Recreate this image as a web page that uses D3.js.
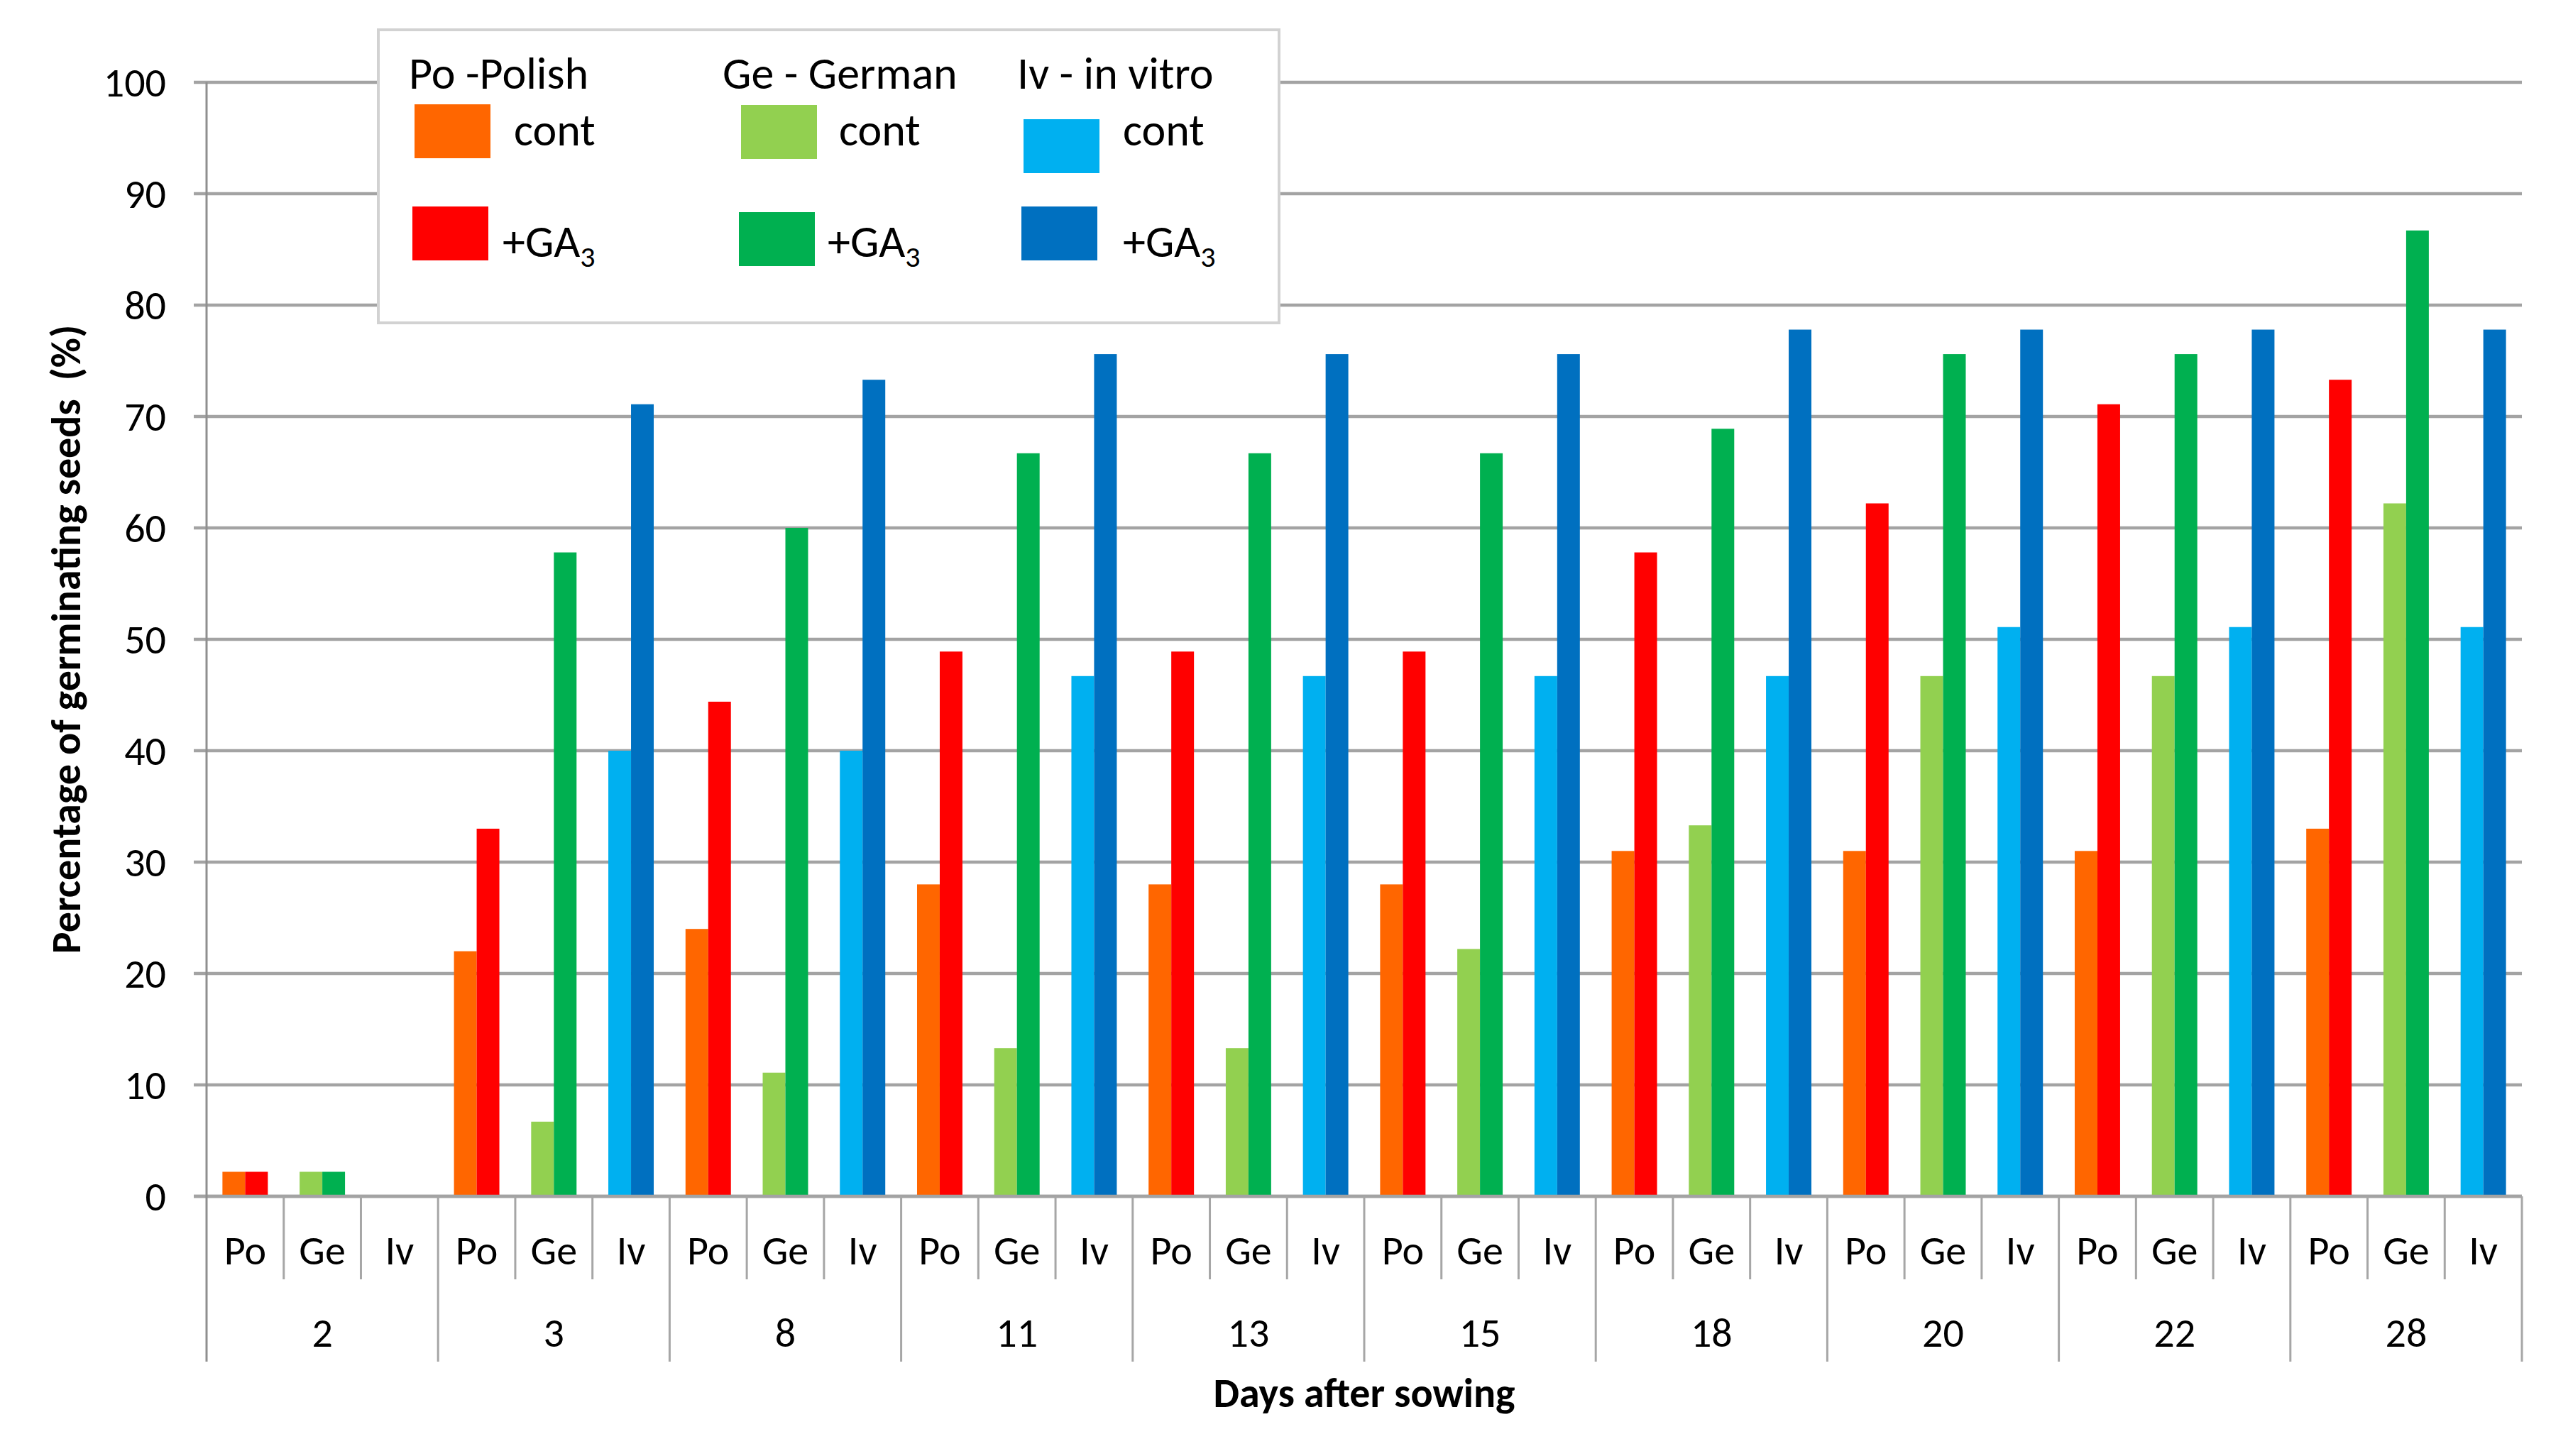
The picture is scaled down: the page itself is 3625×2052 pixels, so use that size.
<!DOCTYPE html>
<html>
<head>
<meta charset="utf-8">
<script src="https://cdn.jsdelivr.net/npm/d3@7"></script>
<style>
	html, body { margin: 0; padding: 0; background: #fff; }
	svg { display: block; }
	text { font-family: Carlito, Calibri, Lato, sans-serif; fill: #000; }
</style>
</head>
<body>
<div id="vis"></div>
<script>

// data
var days = ["2", "3", "8", "11", "13", "15", "18", "20", "22", "28"];
var origins = ["Po", "Ge", "Iv"];
var treatments = ["cont", "ga"];

var poCont = [2.2, 22, 24, 28, 28, 28, 31, 31, 31, 33];
var poGA   = [2.2, 33, 44.4, 48.9, 48.9, 48.9, 57.8, 62.2, 71.1, 73.3];
var geCont = [2.2, 6.7, 11.1, 13.3, 13.3, 22.2, 33.3, 46.7, 46.7, 62.2];
var geGA   = [2.2, 57.8, 60, 66.7, 66.7, 66.7, 68.9, 75.6, 75.6, 86.7];
var ivCont = [0, 40, 40, 46.7, 46.7, 46.7, 46.7, 51.1, 51.1, 51.1];
var ivGA   = [0, 71.1, 73.3, 75.6, 75.6, 75.6, 77.8, 77.8, 77.8, 77.8];

var yTicks = [0, 10, 20, 30, 40, 50, 60, 70, 80, 90, 100];
var legendHeads = ["Po -Polish", "Ge - German", "Iv - in vitro"];

var colors = {
	Po: {cont: "#FF6600", ga: "#FF0000"},
	Ge: {cont: "#92D050", ga: "#00B050"},
	Iv: {cont: "#00B0F0", ga: "#0070C0"}
};

var series = {
	Po: {cont: poCont, ga: poGA},
	Ge: {cont: geCont, ga: geGA},
	Iv: {cont: ivCont, ga: ivGA}
};

var W = 3625, H = 2052;
// "top" is taken by window.top, so plot edges get their own names
var plotL = 291, plotR = 3553, plotT = 116, plotB = 1686;
var fs = 58;

var svg = d3.select("#vis").append("svg")
	.attr("width", W)
	.attr("height", H);

var x0 = d3.scaleBand().domain(days).range([plotL, plotR]);
var x1 = d3.scaleBand().domain(origins).range([0, x0.bandwidth()]);
var x2 = d3.scaleBand().domain(treatments).range([0, x1.bandwidth()]).paddingOuter(0.7);
var y = d3.scaleLinear().domain([0, 100]).range([plotB, plotT]);

// gridlines + ticks
svg.append("g").selectAll("line")
	.data(yTicks)
	.enter()
	.append("line")
	.attr("x1", plotL - 18)
	.attr("x2", plotR)
	.attr("y1", function (d) { return y(d) })
	.attr("y2", function (d) { return y(d) })
	.attr("stroke", "#a3a3a3")
	.attr("stroke-width", 4.5);

svg.append("g").selectAll("text")
	.data(yTicks)
	.enter()
	.append("text")
	.attr("x", 234)
	.attr("y", function (d) { return y(d) })
	.attr("dy", "0.35em")
	.attr("text-anchor", "end")
	.attr("font-size", fs)
	.text(function (d) { return d });

// bars
var flat = [];
days.forEach(function (day, i) {
	origins.forEach(function (o) {
		treatments.forEach(function (t) {
			flat.push({day: day, origin: o, treat: t, value: series[o][t][i]});
		})
	})
});

svg.append("g").selectAll("rect")
	.data(flat.filter(function (d) { return d.value > 0 }))
	.enter()
	.append("rect")
	.attr("x", function (d) { return x0(d.day) + x1(d.origin) + x2(d.treat) })
	.attr("width", x2.bandwidth())
	.attr("y", function (d) { return y(d.value) })
	.attr("height", function (d) { return y(0) - y(d.value) })
	.attr("fill", function (d) { return colors[d.origin][d.treat] });

// baseline again on top of the bars
svg.append("line")
	.attr("x1", plotL - 18).attr("x2", plotR)
	.attr("y1", y(0)).attr("y2", y(0))
	.attr("stroke", "#a3a3a3")
	.attr("stroke-width", 4.5);

// y axis line
svg.append("line")
	.attr("x1", plotL).attr("x2", plotL)
	.attr("y1", plotT).attr("y2", 1919)
	.attr("stroke", "#8f8f8f")
	.attr("stroke-width", 3);

// category dividers + labels
var ax = svg.append("g");
days.forEach(function (day, i) {
	origins.forEach(function (o, j) {
		var xs = x0(day) + x1(o);
		if (i > 0 || j > 0) {
			ax.append("line")
				.attr("x1", xs).attr("x2", xs)
				.attr("y1", y(0)).attr("y2", j == 0 ? 1919 : 1803)
				.attr("stroke", "#a6a6a6")
				.attr("stroke-width", 3);
		}
		ax.append("text")
			.attr("x", xs + x1.bandwidth() / 2)
			.attr("y", 1782)
			.attr("text-anchor", "middle")
			.attr("font-size", fs)
			.text(o);
	});
	ax.append("text")
		.attr("x", x0(day) + x0.bandwidth() / 2)
		.attr("y", 1898)
		.attr("text-anchor", "middle")
		.attr("font-size", fs)
		.text(day);
});
ax.append("line")
	.attr("x1", plotR).attr("x2", plotR)
	.attr("y1", y(0)).attr("y2", 1919)
	.attr("stroke", "#a6a6a6")
	.attr("stroke-width", 3);

// axis titles
svg.append("text")
	.attr("x", (plotL + plotR) / 2)
	.attr("y", 1983)
	.attr("text-anchor", "middle")
	.attr("font-size", fs)
	.attr("font-weight", "bold")
	.text("Days after sowing");

svg.append("text")
	.attr("transform", "translate(113," + ((plotT + plotB) / 2) + ") rotate(-90)")
	.attr("text-anchor", "middle")
	.attr("font-size", fs)
	.attr("font-weight", "bold")
	.style("white-space", "pre")
	.text("Percentage of germinating seeds  (%)");

// legend
var lg = svg.append("g");
lg.append("rect")
	.attr("x", 533).attr("y", 42)
	.attr("width", 1269).attr("height", 413)
	.attr("fill", "#fff")
	.attr("stroke", "#d2d2d2")
	.attr("stroke-width", 4);

var headX = [576, 1018, 1433];
var swX = [584, 1044, 1442];
var contX = [724, 1182, 1582];
var gaX = [708, 1166, 1582];
var contSwY = [147, 148, 168];
var gaSwY = [291, 299, 291];

origins.forEach(function (o, i) {
	lg.append("text")
		.attr("x", headX[i]).attr("y", 125)
		.attr("font-size", 64)
		.text(legendHeads[i]);

	lg.append("rect")
		.attr("x", swX[i]).attr("y", contSwY[i])
		.attr("width", 107).attr("height", 76)
		.attr("fill", colors[o].cont);
	lg.append("text")
		.attr("x", contX[i]).attr("y", 205)
		.attr("font-size", 64)
		.text("cont");

	lg.append("rect")
		.attr("x", swX[i] - 3).attr("y", gaSwY[i])
		.attr("width", 107).attr("height", 76)
		.attr("fill", colors[o].ga);
	var t = lg.append("text")
		.attr("x", gaX[i]).attr("y", 362)
		.attr("font-size", 64);
	t.append("tspan").text("+GA");
	t.append("tspan").attr("font-size", 42).attr("dy", 14).text("3");
});

</script>
</body>
</html>
